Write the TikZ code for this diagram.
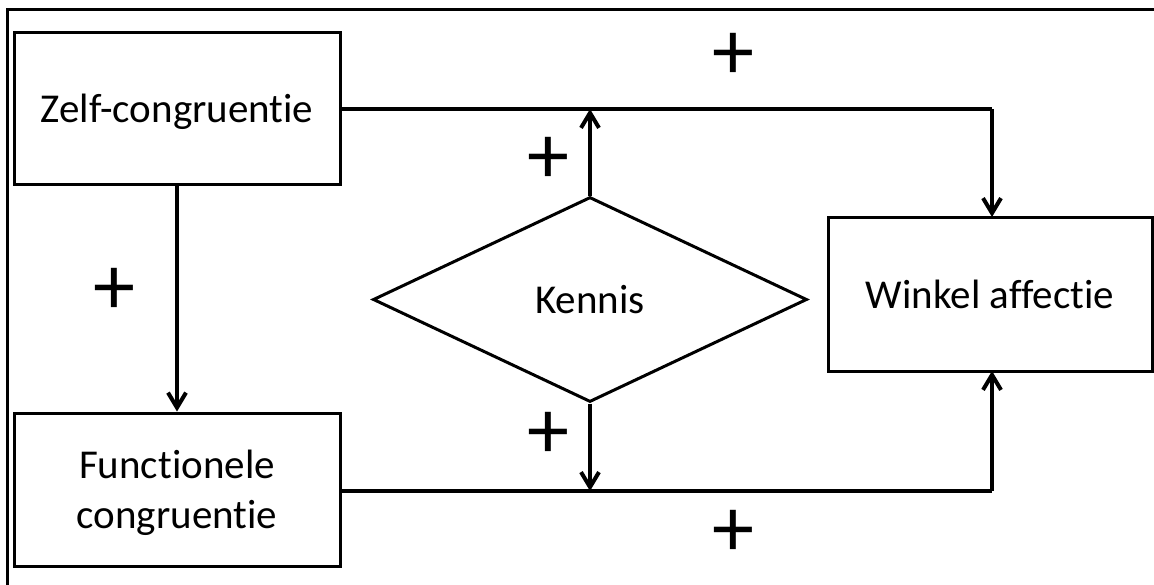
\documentclass[tikz,border=0pt]{standalone}
\usepackage{fontspec}
\setmainfont{Carlito}[Ligatures=NoCommon]
\usetikzlibrary{shapes.geometric,arrows.meta}
\begin{document}
\begin{tikzpicture}[x=1pt,y=-1pt,
  box/.style={draw,line width=3pt,inner sep=0pt,font=\fontsize{41}{50}\selectfont,align=center,text depth=0pt},
  conn/.style={line width=4pt,-{Straight Barb[length=15pt,width=18pt,line width=4pt]}},
  line/.style={line width=4pt},
  plus/.style={font=\fontsize{84}{84}\selectfont,inner sep=0pt}]
\clip (0,0) rectangle (1154,584);
\useasboundingbox (0,0) rectangle (1154,584);
\fill[white] (0,0) rectangle (1154,584);
\draw[line width=3pt] (7,600) -- (7,9) -- (1170,9);
\node[box,minimum width=326pt,minimum height=152pt] (zelf) at (177,108) {Zelf-congruentie};
\node[box,minimum width=326pt,minimum height=153pt] (func) at (177,489.5) {Functionele\\congruentie};
\node[box,minimum width=324pt,minimum height=154pt] (wink) at (990,294) {Winkel affectie};
\node[box,diamond,minimum width=434pt,minimum height=205pt] (ken) at (590,299.5) {Kennis};
\coordinate (jt) at (590,109);
\coordinate (jb) at (590,491);
\draw[line] (zelf.east |- 0,109) -- (992,109);
\draw[conn] (992,109) -- (992,217);
\draw[conn] (zelf.south) -- (func.north);
\draw[line] (func.east |- 0,491) -- (992,491);
\draw[conn] (992,491) -- (992,371);
\draw[conn] (ken.north) -- (jt);
\draw[conn] (ken.south) -- (jb);
\node[plus] (p1) at (733,56) {+};
\node[plus] (p2) at (114,291) {+};
\node[plus] (p3) at (548,160) {+};
\node[plus] (p4) at (548,435) {+};
\node[plus] (p5) at (733,533) {+};
\end{tikzpicture}
\end{document}
